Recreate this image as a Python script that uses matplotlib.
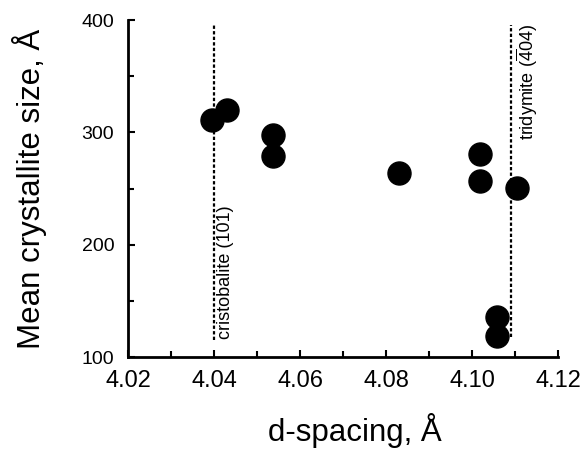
import matplotlib
matplotlib.use("Agg")
import matplotlib.pyplot as plt
from matplotlib.ticker import MultipleLocator

plt.rcParams['font.family'] = ['Liberation Sans', 'DejaVu Sans']
plt.rcParams['mathtext.fontset'] = 'custom'
plt.rcParams['mathtext.rm'] = 'Liberation Sans'

d_spacing = [4.0395, 4.0430, 4.0537, 4.0537, 4.0830, 4.1019, 4.1019, 4.1105, 4.1058, 4.1058]
size = [311, 320, 298, 279, 264, 281, 257, 251, 136, 119]

cristobalite_d = 4.040
tridymite_d = 4.109

fig = plt.figure(figsize=(5.83, 4.59), dpi=100)
ax = fig.add_axes([0.2196, 0.222, 0.7375, 0.734])

ax.vlines(cristobalite_d, 115, 396, colors='black', linestyles=(0, (1.5, 1)), linewidth=1.6)
ax.vlines(tridymite_d, 118, 396, colors='black', linestyles=(0, (1.5, 1)), linewidth=1.6)
ax.scatter(d_spacing, size, s=275, color='black', zorder=3, clip_on=False)

ax.text(cristobalite_d + 0.0027, 116, 'cristobalite (101)', rotation=90,
        ha='center', va='bottom', fontsize=13)
ax.text(tridymite_d + 0.0038, 397, r'tridymite ($\overline{\mathregular{4}}$04)', rotation=90,
        ha='center', va='top', fontsize=13)

ax.set_xlim(4.02, 4.12)
ax.set_ylim(100, 400)
ax.xaxis.set_major_locator(MultipleLocator(0.02))
ax.xaxis.set_minor_locator(MultipleLocator(0.01))
ax.yaxis.set_major_locator(MultipleLocator(100))
ax.yaxis.set_minor_locator(MultipleLocator(50))
ax.set_xticks(ax.get_xticks())
ax.set_xticklabels([f'{v:.2f}' for v in ax.get_xticks()])
ax.set_xlim(4.02, 4.12)

for s in ['top', 'right']:
    ax.spines[s].set_visible(False)
for s in ['left', 'bottom']:
    ax.spines[s].set_linewidth(2)

ax.tick_params(axis='both', which='both', direction='in', width=1.5)
ax.tick_params(axis='both', which='major', length=5)
ax.tick_params(axis='both', which='minor', length=4)
ax.tick_params(axis='x', labelsize=17, pad=9)
ax.tick_params(axis='y', labelsize=14, pad=10)

ax.set_xlabel('d-spacing, Å', fontsize=22.5, va='center')
ax.set_ylabel('Mean crystallite size, Å', fontsize=22.5, va='center')
ax.xaxis.set_label_coords(0.528, -0.217)
ax.yaxis.set_label_coords(-0.228, 0.50)

fig.savefig('out.png', dpi=100)
